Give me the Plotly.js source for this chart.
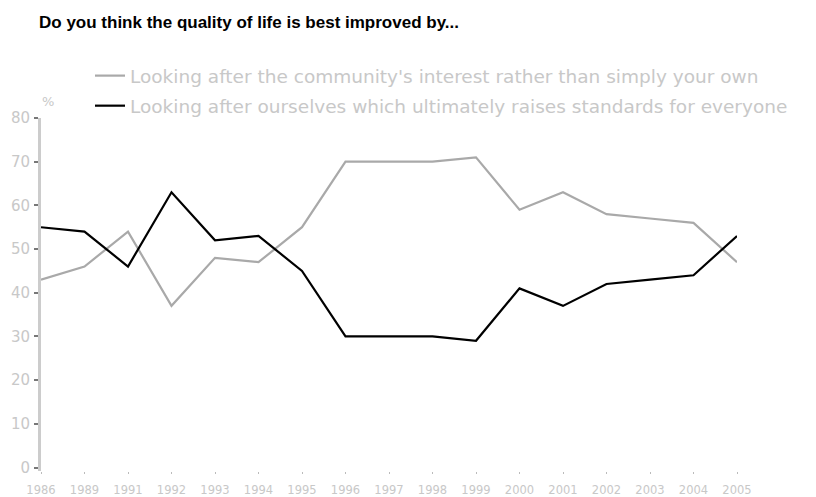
<!DOCTYPE html>
<html>
<head>
<meta charset="utf-8">
<script src="https://cdn.plot.ly/plotly-3.0.1.min.js"></script>
<style>
  html, body { margin: 0; padding: 0; background: #fff; }
  #chart { width: 816px; height: 497px; }
</style>
</head>
<body>
<div id="chart"></div>
<script>
// Survey years (x-axis categories)
const years = ['1986', '1989', '1991', '1992', '1993', '1994', '1995', '1996', '1997',
               '1998', '1999', '2000', '2001', '2002', '2003', '2004', '2005'];

// Share of respondents (%) choosing each answer
const community = [43, 46, 54, 37, 48, 47, 55, 70, 70, 70, 71, 59, 63, 58, 57, 56, 47];
const ourselves = [55, 54, 46, 63, 52, 53, 45, 30, 30, 30, 29, 41, 37, 42, 43, 44, 53];

const seriesNames = [
  "Looking after the community's interest rather than simply your own",
  "Looking after ourselves which ultimately raises standards for everyone"
];

const yTicks = [0, 10, 20, 30, 40, 50, 60, 70, 80];

const traces = [
  {
    x: years, y: community, name: seriesNames[0], type: 'scatter', mode: 'lines',
    legendgroup: 'a',
    line: { color: '#a9a9a9', width: 2.2 }
  },
  {
    x: years, y: ourselves, name: seriesNames[1], type: 'scatter', mode: 'lines',
    legendgroup: 'b',
    line: { color: '#000000', width: 2.2 }
  }
];

const layout = {
  width: 816, height: 497,
  margin: { l: 41, r: 79, t: 118, b: 26, pad: 0 },
  paper_bgcolor: '#ffffff', plot_bgcolor: '#ffffff',
  title: {
    text: 'Do you think the quality of life is best improved by...',
    x: 39 / 816, xanchor: 'left', xref: 'container',
    y: 1 - 22 / 497, yanchor: 'middle', yref: 'container',
    font: { family: 'Liberation Sans, Arial, sans-serif', size: 17, color: '#000', weight: 700 }
  },
  showlegend: true,
  legend: {
    x: (90 - 41) / 696, xanchor: 'left',
    y: 1 + (118 - 57) / 353.5, yanchor: 'top',
    font: { family: 'DejaVu Sans', size: 18.5, color: '#c8c8c8' },
    bgcolor: 'rgba(0,0,0,0)',
    traceorder: 'grouped', tracegroupgap: 3,
    itemwidth: 30
  },
  xaxis: {
    type: 'category',
    range: [0, 16],
    showline: false, showgrid: false, zeroline: false,
    ticks: 'outside', ticklen: 2, tickwidth: 1, tickcolor: '#bbbbbb',
    tickfont: { family: 'DejaVu Sans', size: 11.5, color: '#c8c8c8' },
    ticklabelstandoff: 6,
    fixedrange: true
  },
  yaxis: {
    range: [-0.8, 80],
    tickvals: yTicks, ticktext: yTicks.map(String),
    showline: true, linecolor: '#cccccc', linewidth: 3,
    showgrid: false, zeroline: false,
    ticks: 'outside', ticklen: 4, tickwidth: 2, tickcolor: '#777777',
    tickfont: { family: 'DejaVu Sans', size: 15, color: '#c8c8c8' },
    ticklabelstandoff: 1,
    fixedrange: true
  },
  annotations: [
    {
      text: '%', xref: 'paper', yref: 'paper',
      x: (48 - 41) / 696, y: 1 + (118 - 101) / 353.5,
      xanchor: 'center', yanchor: 'middle', showarrow: false,
      font: { family: 'DejaVu Sans', size: 13, color: '#c8c8c8' }
    }
  ]
};

Plotly.newPlot('chart', traces, layout, { displayModeBar: false, staticPlot: true });
</script>
</body>
</html>
